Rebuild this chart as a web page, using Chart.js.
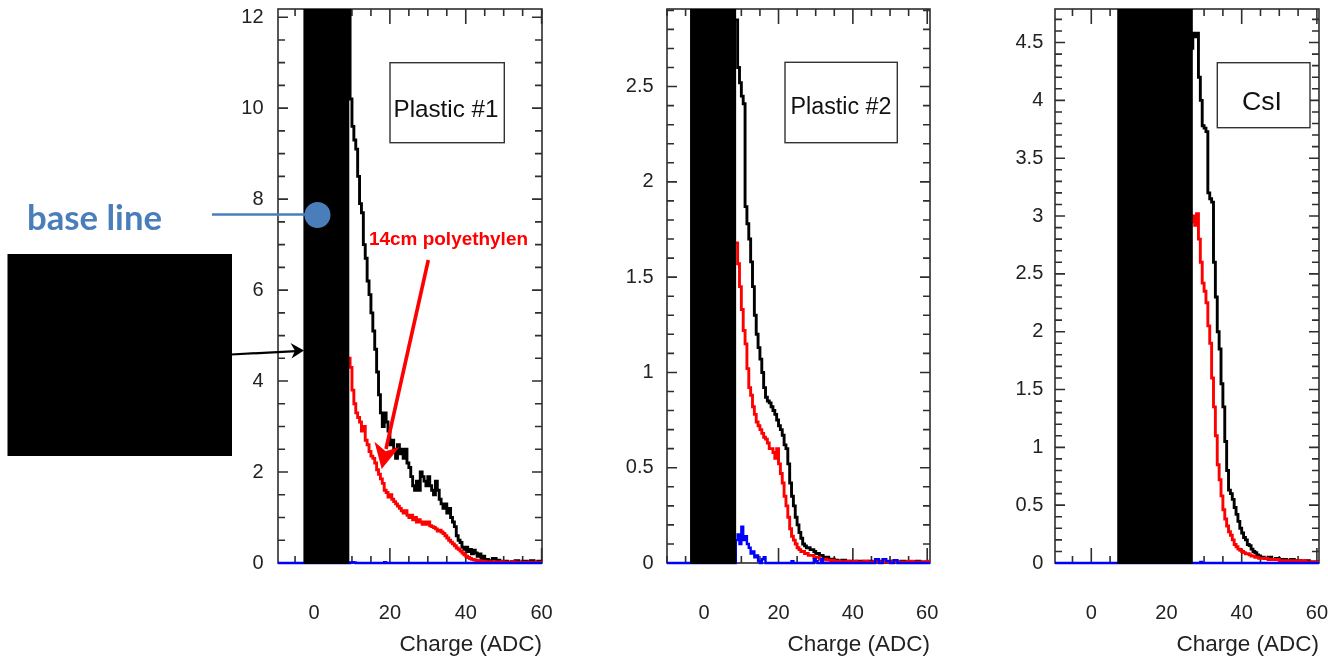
<!DOCTYPE html>
<html><head><meta charset="utf-8">
<script src="https://cdn.jsdelivr.net/npm/chart.js@4.4.1/dist/chart.umd.min.js"></script>
<style>
html,body{margin:0;padding:0;background:#fff;}
#page{position:relative;width:1328px;height:661px;overflow:hidden;background:#fff;}
canvas{position:absolute;top:0;}
svg{position:absolute;left:0;top:0;pointer-events:none;}
</style></head><body>
<div id="page">
<canvas id="c1" width="330" height="661" style="left:230px;width:330px;height:661px"></canvas>
<canvas id="c2" width="350" height="661" style="left:600px;width:350px;height:661px"></canvas>
<canvas id="c3" width="338" height="661" style="left:990px;width:338px;height:661px"></canvas>
<svg width="1328" height="661" viewBox="0 0 1328 661">
  <!-- panel label boxes -->
  <rect x="390" y="62.7" width="114.3" height="80" fill="#fff" stroke="#333" stroke-width="1.4"/>
  <text x="446" y="116.5" text-anchor="middle" font-family="Liberation Sans, Arial, sans-serif" font-size="24.5" fill="#111" textLength="105" lengthAdjust="spacingAndGlyphs">Plastic #1</text>
  <rect x="785" y="62.3" width="112.3" height="80.4" fill="#fff" stroke="#333" stroke-width="1.4"/>
  <text x="841" y="113.5" text-anchor="middle" font-family="Liberation Sans, Arial, sans-serif" font-size="23.5" fill="#111" textLength="101" lengthAdjust="spacingAndGlyphs">Plastic #2</text>
  <rect x="1217.3" y="62.7" width="92.7" height="65" fill="#fff" stroke="#333" stroke-width="1.4"/>
  <text x="1262" y="109.5" text-anchor="middle" font-family="Liberation Sans, Arial, sans-serif" font-size="26.5" fill="#111" textLength="40" lengthAdjust="spacingAndGlyphs">CsI</text>
  <!-- base line annotation -->
  <text x="27" y="230" font-family="Lato, Open Sans, sans-serif" font-weight="bold" font-size="34" fill="#4a7ebb" textLength="135" lengthAdjust="spacingAndGlyphs">base line</text>
  <line x1="212" y1="214.5" x2="310" y2="214.5" stroke="#4a7ebb" stroke-width="2.5"/>
  <circle cx="317.5" cy="215" r="13" fill="#4a7ebb"/>
  <!-- redaction box and black arrow -->
  <rect x="7.5" y="254" width="224.5" height="202" fill="#000"/>
  <line x1="231" y1="354.5" x2="301" y2="350.8" stroke="#000" stroke-width="2.2"/>
  <polygon points="290.5,343 304,350.6 291.5,358.5 295,350.8" fill="#000"/>
  <!-- red annotation -->
  <text x="369" y="244.5" font-family="Liberation Sans, Arial, sans-serif" font-weight="bold" font-size="18" fill="#ff0000" textLength="159" lengthAdjust="spacingAndGlyphs">14cm polyethylen</text>
  <line x1="428.3" y1="260" x2="386" y2="449" stroke="#ff0000" stroke-width="3.6"/>
  <polygon points="381.7,469 374.5,441.8 385.6,451.2 399.5,447" fill="#ff0000"/>
</svg>
</div>
<script>
// ---------------- DATA ----------------
const xTickLabels = [0, 20, 40, 60];

// Panel 1: Plastic #1 (bin left edges in ADC)
const p1Charge = [-10,
  9,9.5,10,10.5,11,11.5,12,12.5,13,13.5,14,14.5,15,15.5,16,16.5,17,17.5,18,18.5,
  19,19.5,20,20.5,21,21.5,22,22.5,23,23.5,24,24.5,25,25.5,26,26.5,27,27.5,28,28.5,
  29,29.5,30,30.5,31,31.5,32,32.5,33,33.5,34,34.5,35,35.5,36,36.5,37,37.5,38,38.5,
  39,39.5,40,40.5,41,41.5,42,42.5,43,43.5,44,44.5,45,
  46,47,48,49,50,51,52,53,54,55,56,57,58,59,60,61];
const p1Black = [null,
  12.5,10.2,9.6,9.3,9.1,8.5,7.9,7.7,7.0,6.7,
  6.2,5.9,5.5,5.1,4.7,4.2,3.7,3.3,3.0,3.3,
  3.1,2.9,2.6,2.7,2.5,2.3,2.6,2.4,2.5,2.3,
  2.5,2.2,2.1,1.9,1.7,1.6,1.8,1.6,2.0,1.9,
  1.8,1.7,1.9,1.7,1.6,1.5,1.8,1.6,1.4,1.3,
  1.2,1.3,1.1,1.2,1.0,0.9,0.8,0.6,0.5,0.45,
  0.35,0.3,0.35,0.25,0.3,0.2,0.28,0.22,0.15,0.2,
  0.1,0.15,0.08,
  0.05,0.1,0.06,0.03,0.04,0.02,0.03,0.05,0.02,0.04,0.03,0.05,0.02,0.04,0.03,0.03];
const p1Red = [null,
  4.5,4.3,3.8,3.5,3.3,3.2,3.1,2.9,3.0,2.7,
  2.6,2.45,2.35,2.3,2.2,2.05,1.95,1.85,1.75,1.6,
  1.55,1.45,1.5,1.4,1.35,1.3,1.25,1.2,1.15,1.1,
  1.15,1.05,1.0,1.05,0.95,1.0,0.9,0.95,0.9,0.85,
  0.9,0.85,0.9,0.82,0.8,0.78,0.75,0.7,0.72,0.68,
  0.65,0.6,0.55,0.5,0.46,0.42,0.38,0.33,0.3,0.26,
  0.22,0.18,0.15,0.12,0.1,0.08,0.07,0.06,0.05,0.05,
  0.04,0.04,0.03,
  0.03,0.03,0.02,0.03,0.02,0.02,0.03,0.02,0.02,0.01,0.02,0.02,0.01,0.02,0.02,0.02];
const p1Blue = [0,
  0,0.01,0.02,0.01,0,0,0,0,0,0,
  0,0,0,0,0,0,0,0,0,0.02,
  0,0,0,0,0,0,0,0,0,0,
  0,0,0,0,0,0,0,0,0,0,
  0,0,0,0,0,0,0,0,0,0,
  0,0,0,0,0,0,0,0,0,0,
  0,0,0,0,0,0,0,0,0,0,
  0,0,0,
  0,0,0,0,0,0,0,0,0,0,0,0,0,0,0,0];
const p1YTicks = [0, 2, 4, 6, 8, 10, 12];
const p1Block = [-2.8, 9.3];

// Panel 2: Plastic #2
const p2Charge = [-10,
  8.5,9,9.5,10,10.5,11,11.5,12,12.5,13,
  13.5,14,14.5,15,15.5,16,16.5,17,17.5,18,
  18.5,19,19.5,20,20.5,21,21.5,22,22.5,23,
  23.5,24,24.5,25,25.5,26,26.5,27,27.5,28,
  28.5,29,29.5,30,30.5,31,31.5,32,32.5,33,
  33.5,34,34.5,35,
  36,37,38,39,40,41,42,43,44,45,46,47,48,49,50,51,52,53,54,55,56,57,58,59,60,61];
const p2Black = [null,
  2.85,2.6,2.52,2.45,2.41,1.87,1.78,1.7,1.58,1.45,
  1.3,1.2,1.13,1.07,1.0,0.92,0.87,0.85,0.84,0.82,
  0.8,0.78,0.75,0.72,0.7,0.67,0.62,0.6,0.52,0.42,
  0.35,0.3,0.24,0.2,0.16,0.13,0.1,0.09,0.08,0.08,
  0.07,0.07,0.06,0.05,0.05,0.04,0.04,0.03,0.03,0.03,
  0.02,0.02,0.02,0.015,
  0.01,0.015,0.01,0.01,0.005,0.01,0.01,0.005,0.01,0.005,0.01,0.01,0.005,0.005,0.01,0.005,0.005,0.01,0.005,0.005,0.005,0.01,0.005,0.005,0.005,0.005];
const p2Red = [null,
  1.68,1.57,1.45,1.33,1.22,1.15,1.02,0.92,0.88,0.82,
  0.78,0.74,0.72,0.7,0.68,0.66,0.65,0.63,0.6,0.6,
  0.58,0.55,0.6,0.52,0.47,0.42,0.35,0.3,0.24,0.18,
  0.14,0.12,0.1,0.08,0.07,0.06,0.06,0.05,0.05,0.04,
  0.04,0.04,0.03,0.03,0.03,0.02,0.02,0.02,0.02,0.015,
  0.015,0.01,0.015,0.01,
  0.01,0.005,0.01,0.005,0.01,0.005,0.005,0.01,0.005,0.005,0.01,0.005,0.005,0.005,0.01,0.005,0.005,0.005,0.005,0.01,0.005,0.005,0.005,0.005,0.01,0.01];
const p2Blue = [0,
  0.12,0.15,0.1,0.19,0.12,0.14,0.1,0.08,0.05,0.06,
  0.03,0.04,0.01,0,0.02,0.03,0,0,0,0,
  0,0,0,0,0,0,0,0,0,0,
  0.01,0,0,0,0,0,0,0,0,0,
  0,0,0.02,0.01,0,0,0.02,0,0,0,
  0,0,0,0,
  0,0,0,0,0,0,0,0,0,0,0.02,0,0.02,0.01,0,0.015,0,0,0,0,0,0,0,0,0,0];
const p2YTicks = [0, 0.5, 1, 1.5, 2, 2.5];
const p2Block = [-3.8, 8.6];

// Panel 3: CsI
const p3Charge = [-10,
  26.5,27,27.5,28,28.5,29,29.5,30,30.5,31,
  31.5,32,32.5,33,33.5,34,34.5,35,35.5,36,
  36.5,37,37.5,38,38.5,39,39.5,40,40.5,41,
  41.5,42,42.5,43,43.5,44,44.5,45,
  46,47,48,49,50,51,52,53,54,55,56,57,58,59,60,61];
const p3Black = [null,
  4.45,4.58,4.55,4.58,4.2,4.0,3.78,3.76,3.73,3.2,
  3.15,3.12,2.6,2.3,2.0,1.85,1.55,1.35,1.05,0.8,
  0.63,0.6,0.55,0.48,0.42,0.36,0.3,0.26,0.22,0.2,
  0.16,0.15,0.12,0.1,0.09,0.07,0.06,0.05,
  0.04,0.05,0.03,0.04,0.03,0.03,0.02,0.03,0.02,0.02,0.015,0.02,0.01,0.01,0.01,0.01];
const p3Red = [null,
  2.95,3.0,2.92,3.02,2.8,2.6,2.42,2.35,2.25,2.05,
  1.9,1.6,1.35,1.1,0.85,0.72,0.58,0.46,0.38,0.32,
  0.27,0.24,0.2,0.16,0.14,0.12,0.11,0.1,0.09,0.08,
  0.08,0.07,0.06,0.06,0.05,0.05,0.04,0.04,
  0.04,0.03,0.03,0.03,0.02,0.02,0.02,0.02,0.015,0.02,0.02,0.01,0.01,0.01,0.005,0.005];
const p3Blue = [0,
  0,0,0,0,0,0.01,0,0,0,0,
  0,0,0,0,0,0,0,0,0,0,
  0,0,0,0,0,0,0,0,0,0,
  0,0,0,0,0,0,0,0,
  0,0,0,0,0,0,0,0,0,0,0,0,0,0,0,0];
const p3YTicks = [0, 0.5, 1, 1.5, 2, 2.5, 3, 3.5, 4, 4.5];
const p3Block = [6.9, 27.0];

// ---------------- RENDERING ----------------
const FONT = '"Liberation Sans", Arial, Helvetica, sans-serif';

const framePlugin = {
  id: 'frame',
  beforeDatasetsDraw(chart, args, o) {
    const {ctx, chartArea: a, scales: {x, y}} = chart;
    ctx.save();
    ctx.strokeStyle = '#2e2e2e';
    ctx.lineWidth = 1.6;
    ctx.strokeRect(a.left, a.top, a.right - a.left, a.bottom - a.top);
    ctx.beginPath();
    let k0 = Math.ceil(x.min / o.xMinor - 1e-9), k1 = Math.floor(x.max / o.xMinor + 1e-9);
    for (let k = k0; k <= k1; k++) {
      const v = k * o.xMinor, r = v / o.xMajor;
      const len = Math.abs(r - Math.round(r)) < 1e-6 ? 15 : 7;
      const px = x.getPixelForValue(v);
      ctx.moveTo(px, a.bottom); ctx.lineTo(px, a.bottom - len);
      ctx.moveTo(px, a.top); ctx.lineTo(px, a.top + len);
    }
    k0 = Math.ceil(y.min / o.yMinor - 1e-9); k1 = Math.floor(y.max / o.yMinor + 1e-9);
    for (let k = k0; k <= k1; k++) {
      const v = k * o.yMinor, r = v / o.yMajor;
      const len = Math.abs(r - Math.round(r)) < 1e-6 ? 10 : 7;
      const py = y.getPixelForValue(v);
      ctx.moveTo(a.left, py); ctx.lineTo(a.left + len, py);
      ctx.moveTo(a.right, py); ctx.lineTo(a.right - len, py);
    }
    ctx.stroke();
    ctx.restore();
  },
  afterDatasetsDraw(chart, args, o) {
    const {ctx, chartArea: a, scales: {x, y}} = chart;
    const xa = Math.max(a.left, x.getPixelForValue(o.block[0]));
    const xb = Math.min(a.right, x.getPixelForValue(o.block[1]));
    const yb = y.getPixelForValue(0);
    ctx.save();
    ctx.fillStyle = '#000';
    ctx.fillRect(xa, a.top, xb - xa, yb - a.top + 1);
    ctx.restore();
  }
};

function pts(xs, ys) { return xs.map((v, i) => ({x: v, y: ys[i]})); }

function makePanel(id, s) {
  return new Chart(document.getElementById(id), {
    type: 'line',
    data: {
      datasets: [
        {data: pts(s.charge, s.blue), borderColor: '#0000ff', borderWidth: 2.4},
        {data: pts(s.charge, s.red), borderColor: '#ff0000', borderWidth: 2.9},
        {data: pts(s.charge, s.black), borderColor: '#000000', borderWidth: 2.9}
      ].map(d => Object.assign(d, {stepped: 'before', pointRadius: 0, fill: false, spanGaps: false,
                                   tension: 0, clip: {left: 0, top: 0, right: 0, bottom: 2}}))
    },
    options: {
      responsive: false, animation: false, events: [], devicePixelRatio: 1,
      layout: {padding: {top: 9, right: s.padRight, left: 0, bottom: 0}},
      plugins: {
        legend: {display: false}, tooltip: {enabled: false},
        frame: {block: s.block, xMinor: 5, xMajor: 20, yMinor: s.yMinor, yMajor: s.yMajor}
      },
      scales: {
        x: {
          type: 'linear', min: s.xmin, max: s.xmax,
          grid: {display: false, drawTicks: false}, border: {display: false},
          afterBuildTicks: sc => { sc.ticks = xTickLabels.map(v => ({value: v})); },
          afterFit: sc => { sc.height = 98; sc.paddingLeft = 0; sc.paddingRight = 0; },
          ticks: {padding: 38.5, autoSkip: false, maxRotation: 0, color: '#222',
                  font: {family: FONT, size: 20}, callback: v => String(v)},
          title: {display: true, text: 'Charge (ADC)', align: 'end', color: '#222',
                  font: {family: FONT, size: 22.5}, padding: {top: 0, bottom: 3}}
        },
        y: {
          type: 'linear', min: 0, max: s.ymax,
          grid: {display: false, drawTicks: false}, border: {display: false},
          afterBuildTicks: sc => { sc.ticks = s.yTicks.map(v => ({value: v})); },
          afterFit: sc => { sc.width = s.yWidth; sc.paddingTop = 0; sc.paddingBottom = 0; },
          ticks: {padding: s.yPad, autoSkip: false, color: '#222',
                  font: {family: FONT, size: 20}, callback: v => String(v)}
        }
      }
    },
    plugins: [framePlugin]
  });
}

makePanel('c1', {charge: p1Charge, black: p1Black, red: p1Red, blue: p1Blue, block: p1Block,
  yTicks: p1YTicks, xmin: -9.5, xmax: 60.1, ymax: 12.18, yMinor: 0.5, yMajor: 2,
  yWidth: 48, padRight: 18, yPad: 14.5});
makePanel('c2', {charge: p2Charge, black: p2Black, red: p2Red, blue: p2Blue, block: p2Block,
  yTicks: p2YTicks, xmin: -10, xmax: 60.75, ymax: 2.907, yMinor: 0.1, yMajor: 0.5,
  yWidth: 67, padRight: 20, yPad: 13.4});
makePanel('c3', {charge: p3Charge, black: p3Black, red: p3Red, blue: p3Blue, block: p3Block,
  yTicks: p3YTicks, xmin: -9.65, xmax: 60.56, ymax: 4.79, yMinor: 0.1, yMajor: 0.5,
  yWidth: 65, padRight: 9, yPad: 11.7});
</script>
</body></html>
